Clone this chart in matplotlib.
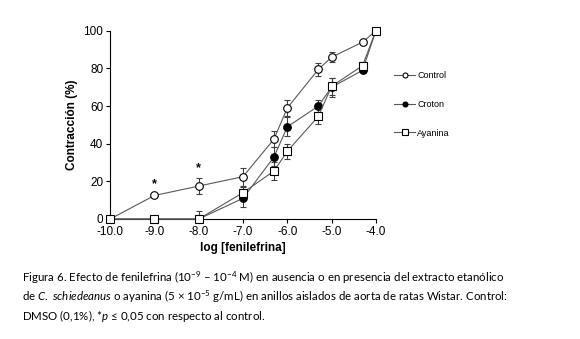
import matplotlib.pyplot as plt
import numpy as np

plt.rcParams["font.family"] = ["Liberation Sans", "DejaVu Sans"]
plt.rcParams["mathtext.fontset"] = "custom"
plt.rcParams["mathtext.rm"] = "Lato"
plt.rcParams["mathtext.it"] = "Lato:italic"

log_conc = [-10.0, -9.0, -8.0, -7.0, -6.3, -6.0, -5.3, -5.0, -4.3, -4.0]

control = [0, 12.5, 17.5, 22.5, 42.5, 59, 79.5, 86, 94, 100]
control_err = [0, 0.8, 4.2, 4.8, 4.5, 4, 3.5, 2.8, 0.8, 0]

croton = [0, 0, 0, 11, 33, 49, 60, 70, 79, 100]
croton_err = [0, 0, 4, 4.5, 5, 5, 3.5, 5, 1, 0]

ayanina = [0, 0, 0, 14, 25.5, 36, 54.5, 70.5, 81.5, 100]
ayanina_err = [0, 0, 2, 3, 4.8, 4, 4, 4.5, 1, 0]

xticks = [-10.0, -9.0, -8.0, -7.0, -6.0, -5.0, -4.0]
yticks = [0, 20, 40, 60, 80, 100]
significant = [-9.0, -8.0]

fig = plt.figure(figsize=(5.8, 3.39), dpi=100)
ax = fig.add_axes([0.19, 0.354, 0.458, 0.555])

line_col = "#595959"
# draw order: croton, control, ayanina (squares stay visible on top)
series = [
    ("Croton", croton, croton_err, "o", "black"),
    ("Control", control, control_err, "o", "white"),
    ("Ayanina", ayanina, ayanina_err, "s", "white"),
]
handles = {}
for z, (name, vals, err, mk, fc) in enumerate(series):
    ax.errorbar(log_conc, vals, yerr=err, fmt="none", ecolor="#404040",
                elinewidth=0.8, capsize=2.5, capthick=0.8, zorder=2)
    h, = ax.plot(log_conc, vals, color=line_col, lw=0.8, marker=mk,
                 markersize=5.5 if mk == "o" else 6, markerfacecolor=fc,
                 markeredgecolor="black", markeredgewidth=0.8,
                 zorder=3 + z, clip_on=False)
    handles[name] = h

for xs in significant:
    i = log_conc.index(xs)
    ax.text(xs, control[i] + control_err[i] + 2, "*", ha="center", va="bottom",
            fontsize=9, fontweight="bold")

ax.set_xlim(-10.0, -4.0)
ax.set_ylim(0, 100)
ax.set_xticks(xticks)
ax.set_xticklabels([f"{v:.1f}" for v in xticks])
ax.set_yticks(yticks)
ax.tick_params(labelsize=8.5, length=3, width=0.8, pad=2)
for s in ["top", "right"]:
    ax.spines[s].set_visible(False)
for s in ["left", "bottom"]:
    ax.spines[s].set_linewidth(0.8)
ax.set_ylabel("Contracción (%)", fontsize=8.5, fontweight="bold", labelpad=4)
ax.set_xlabel("log [fenilefrina]", fontsize=8.5, fontweight="bold", labelpad=3)

leg = fig.legend([handles["Control"], handles["Croton"], handles["Ayanina"]],
                 ["Control", "Croton", "Ayanina"], loc="upper left",
                 bbox_to_anchor=(0.665, 0.815), frameon=False, fontsize=6.5,
                 handlelength=2.4, handletextpad=0.2, labelspacing=2.2,
                 markerscale=0.65)

cap = [
    r"Figura 6. Efecto de fenilefrina ($10^{-9}$ – $10^{-4}$ M) en ausencia o en presencia del extracto etanólico",
    r"de $\it{C.}$ $\it{schiedeanus}$ o ayanina (5 × $10^{-5}$ g/mL) en anillos aislados de aorta de ratas Wistar. Control:",
    r"DMSO (0,1%), *$\it{p}$ ≤ 0,05 con respecto al control.",
]
for k, line in enumerate(cap):
    fig.text(0.038, 1 - (278 + 19 * k) / 339, line, fontsize=8.3,
             family=["Lato", "DejaVu Sans"], va="center", ha="left")

fig.savefig("out.png", dpi=100)
